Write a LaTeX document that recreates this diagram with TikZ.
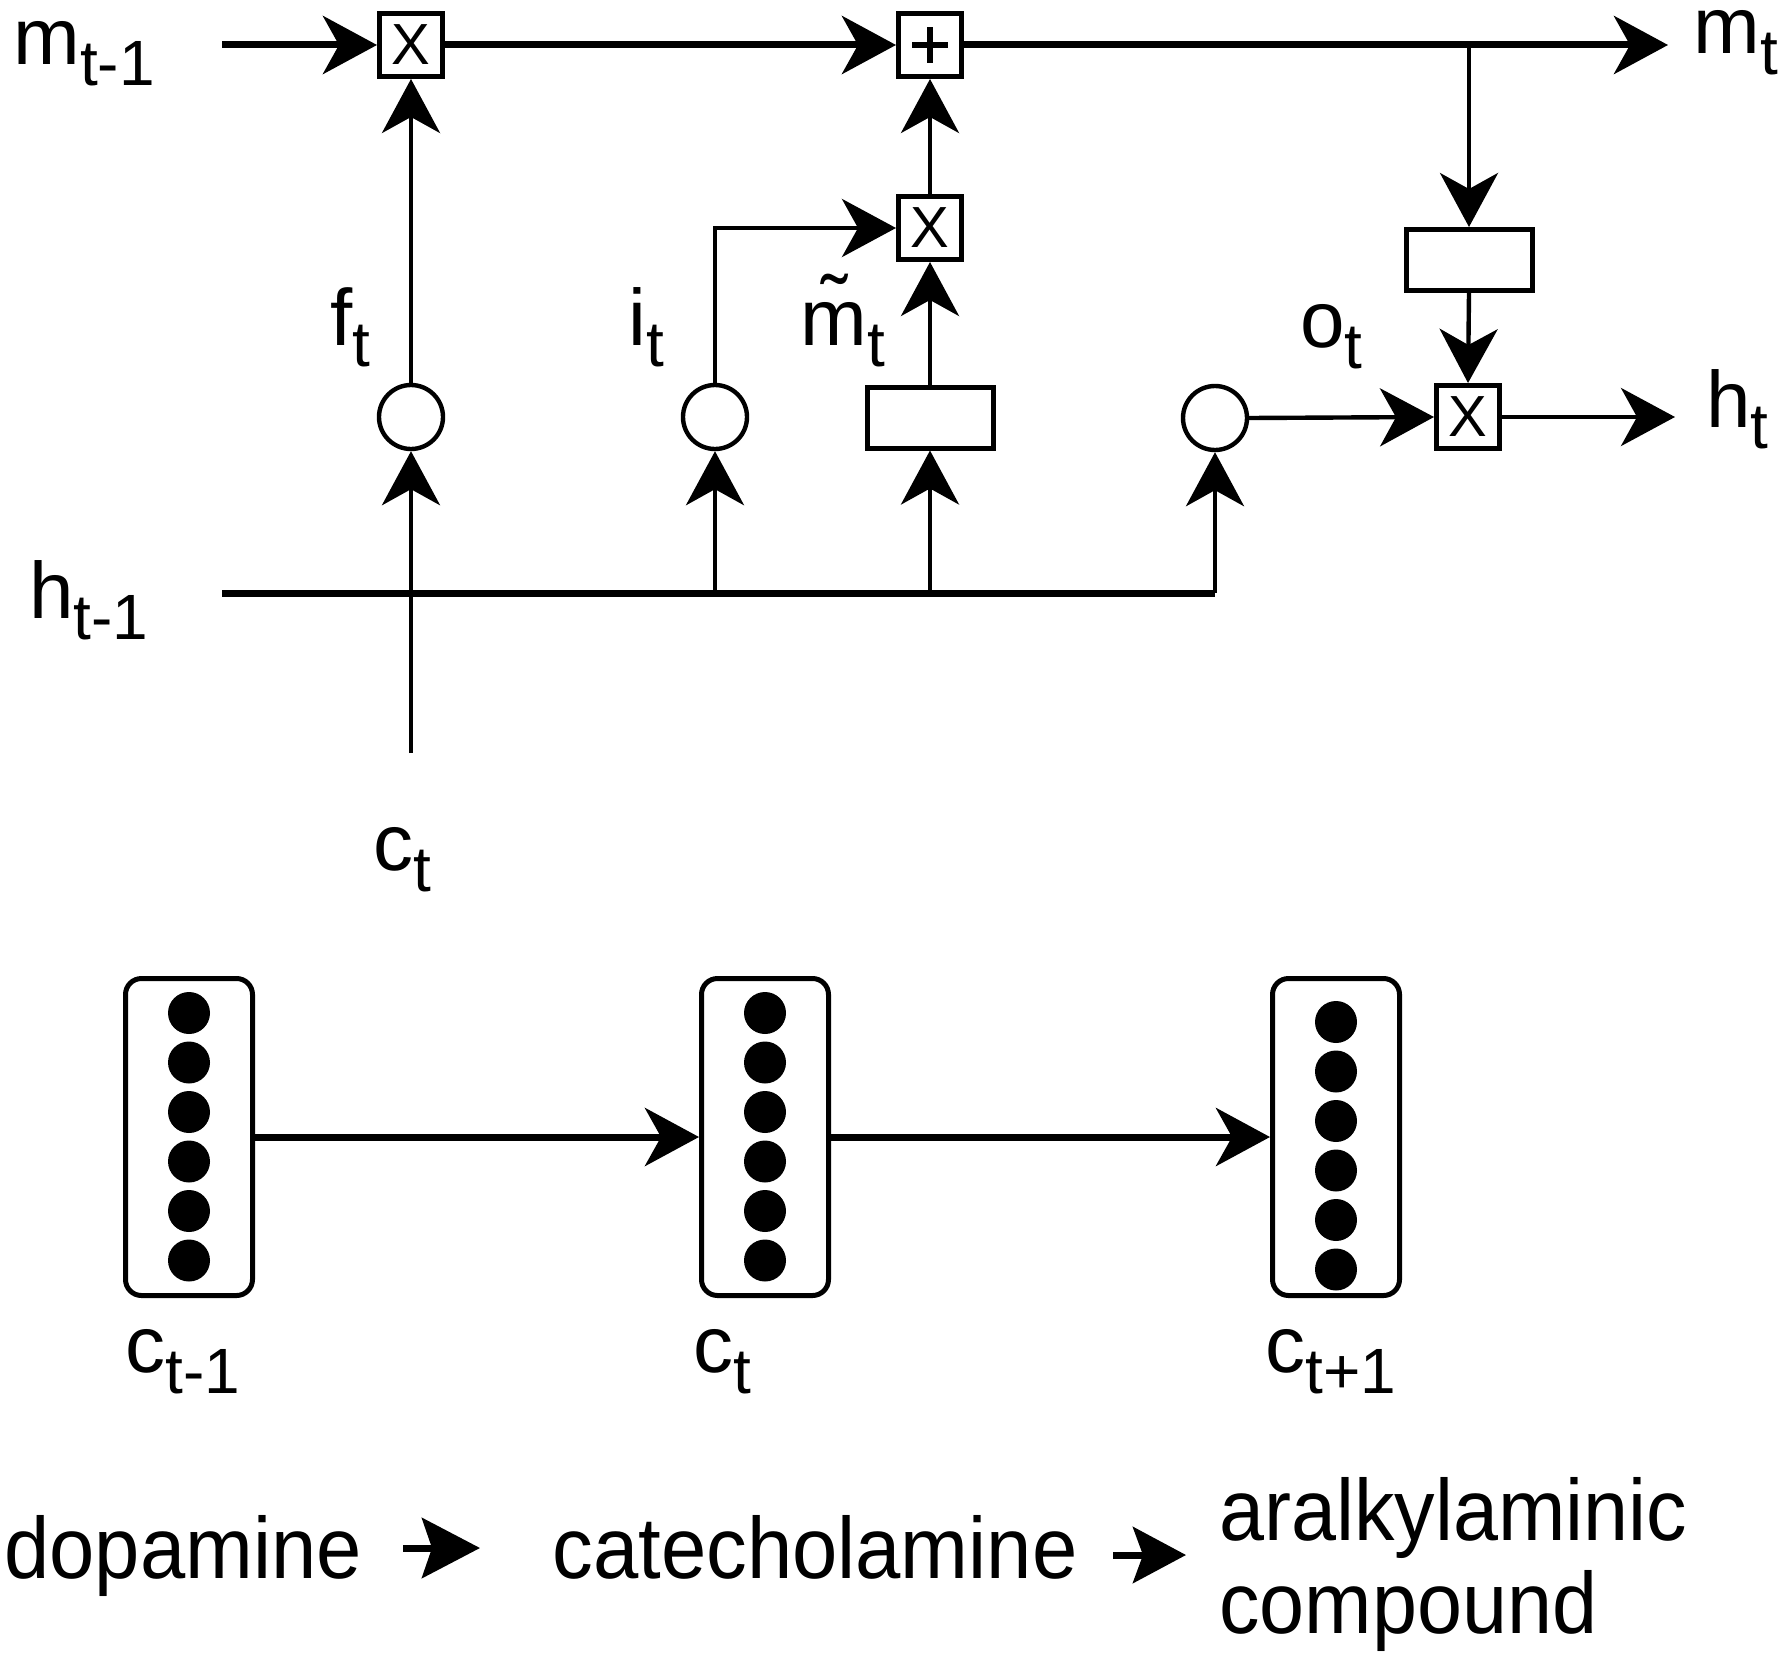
\documentclass[tikz,border=0pt]{standalone}
\usepackage{fontspec}
\usepackage{graphicx}
\setmainfont{Liberation Sans}
\usetikzlibrary{arrows.meta}
\newcommand{\lab}[2]{\fontsize{40}{44}\selectfont #1\raisebox{-10.5pt}{\fontsize{32}{36}\selectfont #2}}
\begin{document}
\begin{tikzpicture}[x=0.5pt,y=-0.5pt,
  arr/.style={-{Stealth[length=27pt,width=29pt,inset=8pt]}},
  opbox/.style={draw, line width=2.5pt, minimum size=31.5pt, inner sep=0pt, font=\fontsize{29}{30}\selectfont},
  gate/.style={draw, circle, line width=2.2pt, minimum size=32pt, inner sep=0pt},
  actbox/.style={draw, line width=2.5pt, minimum width=63pt, minimum height=30.5pt, inner sep=0pt},
  vec/.style={draw, rounded corners=8pt, line width=2.5pt, minimum width=63.5pt, minimum height=158.5pt, inner sep=0pt},
  dot/.style={circle, fill=black, minimum size=21pt, inner sep=0pt},
  lbl/.style={anchor=base west, inner sep=0pt},
  word/.style={anchor=base west, inner sep=0pt, font=\fontsize{43.5}{48}\selectfont},
  wire/.style={line width=2.2pt},
  bus/.style={line width=3.5pt}]
\fill[white] (0,0) rectangle (1788,1659);
\useasboundingbox (0,0) rectangle (1788,1659);

% operation nodes
\node[opbox] (fx) at (411,45) {X};
\node[opbox] (plus) at (930,45) {};
\draw[line width=2.8pt] ([xshift=-9pt]plus.center) -- ([xshift=9pt]plus.center);
\draw[line width=2.8pt] ([yshift=-9pt]plus.center) -- ([yshift=9pt]plus.center);
\node[opbox] (ix) at (930,228) {X};
\node[opbox] (ox) at (1468,417) {X};
\node[gate] (fg) at (411,417) {};
\node[gate] (ig) at (715,417) {};
\node[gate] (og) at (1215,418) {};
\node[actbox] (cand) at (930,417.5) {};
\node[actbox] (tanhm) at (1469,260) {};

% free ends and junctions
\coordinate (min) at (222,45);
\coordinate (mout) at (1668,45);
\coordinate (mbr) at (1469,45);
\coordinate (hin) at (222,593);
\coordinate (hcorner) at (1215,593);
\coordinate (hout) at (1675,417);
\coordinate (cin) at (411,753);
\coordinate (jI) at (715,593);
\coordinate (jC) at (930,593);

% connectors
\draw[bus,arr] (min) -- (fx.west);
\draw[bus,arr] (fx.east) -- (plus.west);
\draw[bus,arr] (plus.east) -- (mout);
\draw[wire,arr] (mbr) -- (tanhm.north);
\draw[wire,arr] (tanhm.south) -- (ox.north);
\draw[wire,arr] (ox.east) -- (hout);
\draw[wire,arr] (og.east) -- (ox.west);
\draw[wire,arr] (fg.north) -- (fx.south);
\draw[wire,arr] (cin) -- (fg.south);
\draw[bus] (hin) -- (hcorner);
\draw[wire,arr] (hcorner) -- (og.south);
\draw[wire,arr] (jI) -- (ig.south);
\draw[wire,arr] (jC) -- (cand.south);
\draw[wire,arr] (ig.north) |- (ix.west);
\draw[wire,arr] (cand.north) -- (ix.south);
\draw[wire,arr] (ix.north) -- (plus.south);

% labels
\node[lbl] (lmprev) at (13,65) {\lab{m}{t-1}};
\node[lbl, text height=21pt] (lmt) at (1693,54) {\lab{m}{t}};
\node[lbl] (lht) at (1706,427) {\lab{h}{t}};
\node[lbl] (lhprev) at (29,618) {\lab{h}{t-1}};
\node[lbl] (lft) at (330,345) {\lab{f}{t}};
\node[lbl] (lit) at (628,345) {\lab{i}{t}};
\node[lbl] (lmtil) at (800,345) {\lab{\~{m}}{t}};
\node[lbl] (lot) at (1300,347) {\lab{o}{t}};
\node[lbl] (lct) at (373,870) {\lab{c}{t}};

% context vectors
\node[vec] (v1) at (189,1137) {};
\node[vec] (v2) at (765,1137) {};
\node[vec] (v3) at (1336,1137) {};
\foreach \k in {0,...,5} {
  \node[dot] (v1d\k) at (189,{1013+49.5*\k}) {};
  \node[dot] (v2d\k) at (765,{1013+49.5*\k}) {};
  \node[dot] (v3d\k) at (1336,{1022+49.5*\k}) {};
}
\draw[bus,arr] (v1.east) -- (v2.west);
\draw[bus,arr] (v2.east) -- (v3.west);
\node[lbl] (lc1) at (125,1372) {\lab{c}{t-1}};
\node[lbl] (lc2) at (693,1372) {\lab{c}{t}};
\node[lbl] (lc3) at (1265,1372) {\lab{c}{t+1}};

% words
\node[word] (dop) at (4,1578) {\scalebox{0.935}[1]{dopamine}};
\node[word] (cat) at (552,1578) {\scalebox{0.936}[1]{catecholamine}};
\node[word] (ara) at (1219,1540) {\scalebox{0.93}[1]{aralkylaminic}};
\node[word] (cmp) at (1219,1633) {\scalebox{0.93}[1]{compound}};
\coordinate (t1s) at (403,1548);
\coordinate (t1e) at (480,1548);
\coordinate (t2s) at (1113,1555);
\coordinate (t2e) at (1186,1555);
\draw[line width=3.5pt,-{Stealth[length=29pt,width=30pt,inset=5pt]}] (t1s) -- (t1e);
\draw[line width=3.5pt,-{Stealth[length=26.5pt,width=28pt,inset=5pt]}] (t2s) -- (t2e);
\end{tikzpicture}
\end{document}
